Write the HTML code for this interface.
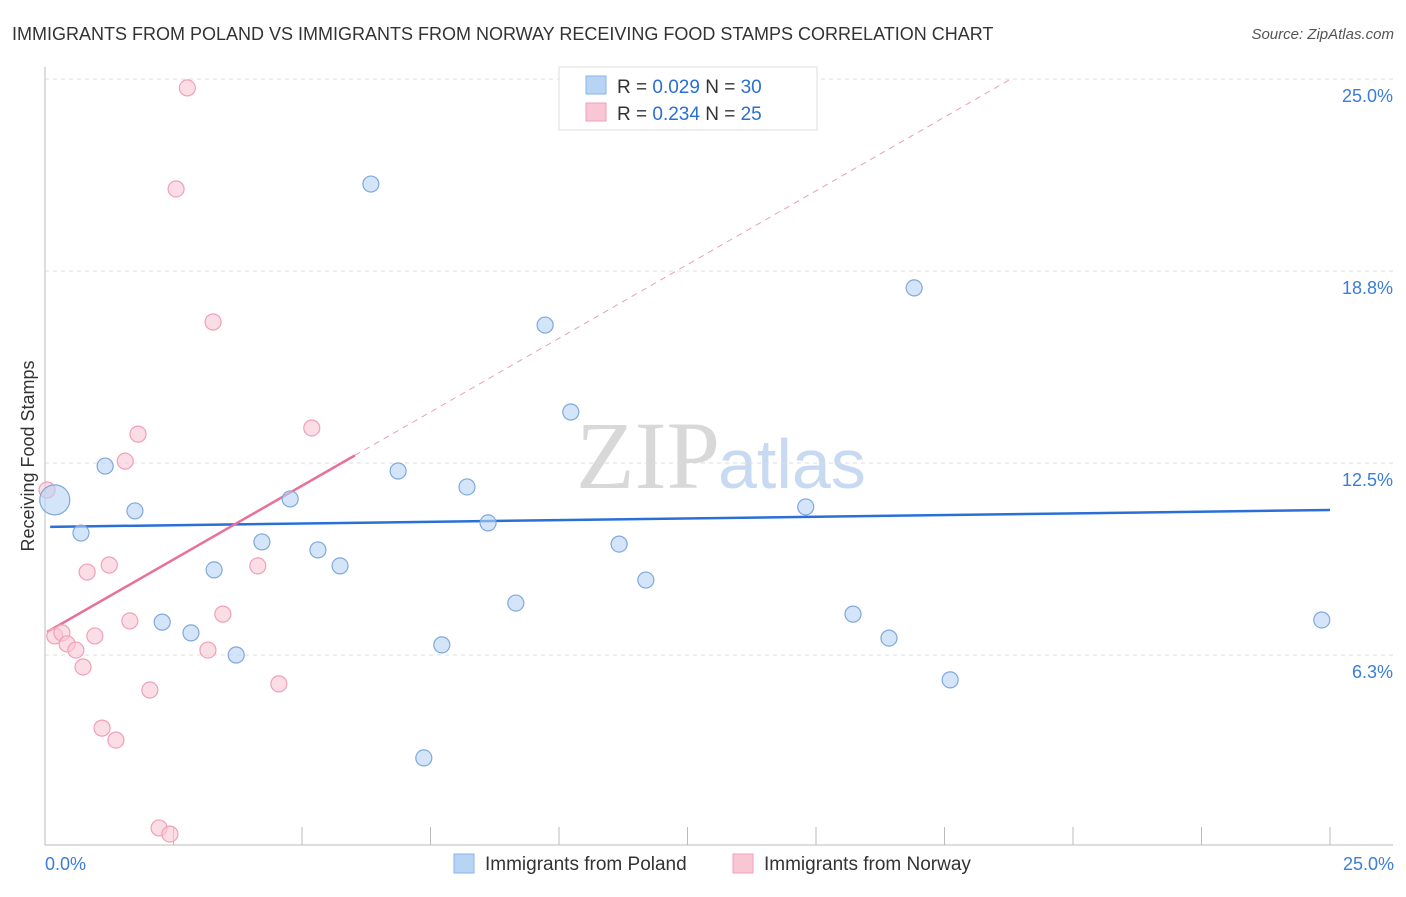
<!DOCTYPE html>
<html><head><meta charset="utf-8"><style>
body{margin:0;background:#fff;font-family:"Liberation Sans",sans-serif;}
</style></head><body>
<svg id="chart" width="1406" height="892" viewBox="0 0 1406 892" xmlns="http://www.w3.org/2000/svg">
<text x="12" y="40" font-size="18" fill="#333">IMMIGRANTS FROM POLAND VS IMMIGRANTS FROM NORWAY RECEIVING FOOD STAMPS CORRELATION CHART</text>
<text x="1394" y="39" font-size="15" fill="#555" text-anchor="end" font-style="italic">Source: ZipAtlas.com</text>
<text x="720" y="488" font-size="96" fill="#d8d8d8" text-anchor="end" font-family="Liberation Serif,serif">ZIP</text>
<text x="718" y="488" font-size="70" fill="#c8daf2">atlas</text>
<g id="grid"></g>
<g id="axes"></g>
<g id="trends"></g>
<g id="points"></g>
<text transform="translate(34,456) rotate(-90)" font-size="18" fill="#333" text-anchor="middle">Receiving Food Stamps</text>
<text x="45" y="870" font-size="18" fill="#3b7dd8">0.0%</text>
<text x="1394" y="870" font-size="18" fill="#3b7dd8" text-anchor="end">25.0%</text>
<g>
<rect x="559" y="67" width="258" height="63" fill="#fff" stroke="#ddd"/>
<rect x="586" y="76" width="20" height="18" fill="#b8d4f5" stroke="#8ab4e8"/>
<rect x="586" y="103" width="20" height="18" fill="#f9c6d5" stroke="#f0a0b8"/>
<text x="617" y="93" font-size="19" fill="#333">R = <tspan fill="#2a6fd6">0.029</tspan>    N = <tspan fill="#2a6fd6">30</tspan></text>
<text x="617" y="120" font-size="19" fill="#333">R = <tspan fill="#2a6fd6">0.234</tspan>    N = <tspan fill="#2a6fd6"> 25</tspan></text>
</g>
<g>
<rect x="454" y="854" width="20" height="19" fill="#b8d4f5" stroke="#8ab4e8"/>
<text x="485" y="870" font-size="19" fill="#333">Immigrants from Poland</text>
<rect x="733" y="854" width="20" height="19" fill="#f9c6d5" stroke="#f0a0b8"/>
<text x="764" y="870" font-size="19" fill="#333">Immigrants from Norway</text>
</g>
</svg>
<script>
const yTicks=[6.3,12.5,18.8,25.0];
const yTickVals=[6.25,12.5,18.75,25];
const xTickVals=[0,2.5,5,7.5,10,12.5,15,17.5,20,22.5,25];
const polandX=[0.19,0.70,1.17,1.75,2.28,2.84,3.29,3.72,4.22,4.77,5.31,5.74,6.34,6.87,7.37,7.72,8.21,8.62,9.16,9.73,10.23,11.17,11.69,12.98,14.80,15.72,16.42,16.91,17.61,24.84];
const polandY=[11.30,10.22,12.40,10.94,7.32,6.97,9.02,6.25,9.93,11.33,9.67,9.15,21.58,12.24,2.90,6.58,11.72,10.55,7.94,16.99,14.16,9.86,8.69,23.83,11.07,7.58,6.80,18.20,5.44,7.39];
const polandR=[15,8,8,8,8,8,8,8,8,8,8,8,8,8,8,8,8,8,8,8,8,8,8,8,8,8,8,8,8,8];
const norwayX=[0.04,0.19,0.33,0.43,0.60,0.74,0.82,0.97,1.11,1.25,1.38,1.56,1.65,1.81,2.04,2.22,2.43,2.55,2.77,3.17,3.27,3.46,4.14,4.55,5.19];
const norwayY=[11.62,6.87,6.97,6.61,6.41,5.86,8.95,6.87,3.87,9.18,3.48,12.56,7.36,13.44,5.11,0.62,0.42,21.42,24.71,6.41,17.09,7.58,9.15,5.31,13.64];
const polandTrend=[10.42,10.97];
const norwayTrend=[6.96,0.96];
const NS="http://www.w3.org/2000/svg";
const sx=v=>45+v/25*1285;
const sy=v=>847-v*192/6.25;
function mk(tag,attrs,parent){const e=document.createElementNS(NS,tag);for(const k in attrs)e.setAttribute(k,attrs[k]);document.getElementById(parent).appendChild(e);return e;}
yTickVals.forEach((v,i)=>{
 const l=mk('line',{x1:45,x2:1393,y1:sy(v),y2:sy(v),stroke:'#ddd','stroke-dasharray':'4,4'},'grid');
 
 
 const t=mk('text',{x:1393,y:sy(v)+23,'font-size':18,fill:'#3b7dd8','text-anchor':'end'},'grid');
 t.textContent=yTicks[i].toFixed(1)+'%';
 
 
});
let a=mk('line',{x1:45,x2:45,y1:67,y2:845,stroke:'#bbb'},'axes');


a=mk('line',{x1:45,x2:1393,y1:845,y2:845,stroke:'#bbb'},'axes');


xTickVals.forEach(v=>{
 const t=mk('line',{x1:sx(v),x2:sx(v),y1:827,y2:845,stroke:'#bbb'},'axes');
 
 
});
let tl=mk('line',{x1:sx(0.1),y1:sy(polandTrend[0]+(polandTrend[1]-polandTrend[0])*0.1/25),x2:sx(25),y2:sy(polandTrend[1]),stroke:'#2a6fd6','stroke-width':2.5},'trends');


const nEnd=(25-norwayTrend[0])/norwayTrend[1];
tl=mk('line',{x1:sx(6.03),y1:sy(norwayTrend[0]+norwayTrend[1]*6.03),x2:sx(nEnd),y2:sy(25),stroke:'#e8a0b8','stroke-width':1,'stroke-dasharray':'6,5'},'trends');


tl=mk('line',{x1:sx(0.04),y1:sy(norwayTrend[0]+norwayTrend[1]*0.04),x2:sx(6.03),y2:sy(norwayTrend[0]+norwayTrend[1]*6.03),stroke:'#e8709a','stroke-width':2.5},'trends');


norwayX.forEach((x,i)=>{
 const c=mk('circle',{cx:sx(x),cy:sy(norwayY[i]),r:8,fill:'#f9c6d5','fill-opacity':0.6,stroke:'#f0a0b8','stroke-width':1.2},'points');
 
 
});
polandX.forEach((x,i)=>{
 const c=mk('circle',{cx:sx(x),cy:sy(polandY[i]),r:polandR[i],fill:'#b8d4f5','fill-opacity':0.6,stroke:'#7fa8dc','stroke-width':1.2},'points');
 
 
});
</script>
</body></html>
